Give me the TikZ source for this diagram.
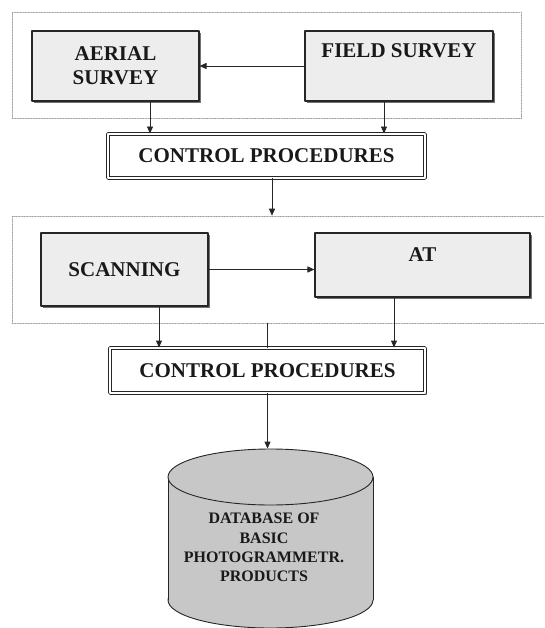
\documentclass[tikz,border=0pt]{standalone}
\usepackage{fontspec}
\setmainfont{Liberation Serif}
\usepackage{pgf,tikz}
\usetikzlibrary{arrows.meta}
\usetikzlibrary{shadows}
\usetikzlibrary{shapes.geometric}

\begin{document}
\begin{tikzpicture}[line cap=round,line join=round,>={Triangle[length=7pt,width=6pt]},x=1pt,y=-1pt,
  stage/.style={rectangle,draw=black!40,line width=0.6pt,densely dotted,inner sep=0pt},
  task/.style={rectangle,draw=black!85,line width=1.1pt,fill=black!7,inner sep=0pt,align=center,
    text=black!90,font=\fontsize{21}{24}\selectfont\bfseries,
    drop shadow={shadow xshift=2.2pt,shadow yshift=-2.2pt,fill=black!55,opacity=1}},
  check/.style={rectangle,draw=black!85,double=white,double distance=1.6pt,line width=0.9pt,
    fill=white,inner sep=0pt,text=black!90,font=\fontsize{21}{24}\selectfont\bfseries,
    drop shadow={shadow xshift=1.5pt,shadow yshift=-1.5pt,fill=black!45,opacity=1}},
  flow/.style={->,line width=0.9pt,color=black!85},
  plain/.style={line width=0.9pt,color=black!85}]
\useasboundingbox (0,0) rectangle (544,628);
\clip (0,0) rectangle (544,628);
\fill[white] (0,0) rectangle (544,628);
% group frames
\node[stage,minimum width=509pt,minimum height=106pt] (surveys) at (266.5,65) {};
\node[stage,minimum width=540pt,minimum height=107pt] (processing) at (282,269.5) {};
% boxes
\node[task,minimum width=167pt,minimum height=70pt] (aerial) at (115.5,66) {AERIAL\\SURVEY};
\node[task,minimum width=188pt,minimum height=70pt,text depth=30pt] (field) at (399,66) {FIELD SURVEY};
\node[check,minimum width=317pt,minimum height=44pt] (ctrlA) at (266.5,156) {CONTROL PROCEDURES};
\node[task,minimum width=167pt,minimum height=73pt] (scan) at (124.5,269.5) {SCANNING};
\node[task,minimum width=215pt,minimum height=64pt,text depth=20pt] (at) at (422.5,265) {AT};
\node[check,minimum width=315pt,minimum height=45pt] (ctrlB) at (267.5,370.5) {CONTROL PROCEDURES};
% database cylinder
\draw[line width=0.9pt,draw=black!85,fill=black!22] (270.5,600) ellipse [x radius=102.5pt,y radius=28pt];
\fill[black!22] (168,477) rectangle (373,600);
\draw[plain] (168,477) -- (168,600);
\draw[plain] (373,477) -- (373,600);
\node[ellipse,draw=black!85,line width=0.9pt,fill=black!22,minimum width=205pt,minimum height=56pt,inner sep=0pt] (dbtop) at (270.5,477) {};
\node[inner sep=0pt,text=black!90,font=\fontsize{16}{19.3}\selectfont\bfseries] (db) at (264,549)
  {\begin{tabular}{@{}c@{}}DATABASE OF\\BASIC\\PHOTOGRAMMETR.\\PRODUCTS\end{tabular}};
% connectors
\coordinate (aerialout) at ([xshift=34.5pt]aerial.south);
\coordinate (fieldout) at ([xshift=-15pt]field.south);
\coordinate (ctrlAout) at ([xshift=5.5pt]ctrlA.south);
\coordinate (scanout) at ([xshift=34.5pt]scan.south);
\coordinate (atout) at ([xshift=-28.5pt]at.south);
\draw[flow] (field.west) -- (aerial.east);
\draw[flow] (aerialout) -- (aerialout |- ctrlA.north);
\draw[flow] (fieldout) -- (fieldout |- ctrlA.north);
\draw[flow] (ctrlAout) -- (ctrlAout |- processing.north);
\draw[flow] (scan.east) -- (scan.east -| at.west);
\draw[flow] (scanout) -- (scanout |- ctrlB.north);
\draw[flow] (atout) -- (atout |- ctrlB.north);
\draw[plain] (ctrlB.north |- processing.south) -- (ctrlB.north);
\draw[flow] (ctrlB.south) -- (ctrlB.south |- dbtop.north);
\end{tikzpicture}
\end{document}
